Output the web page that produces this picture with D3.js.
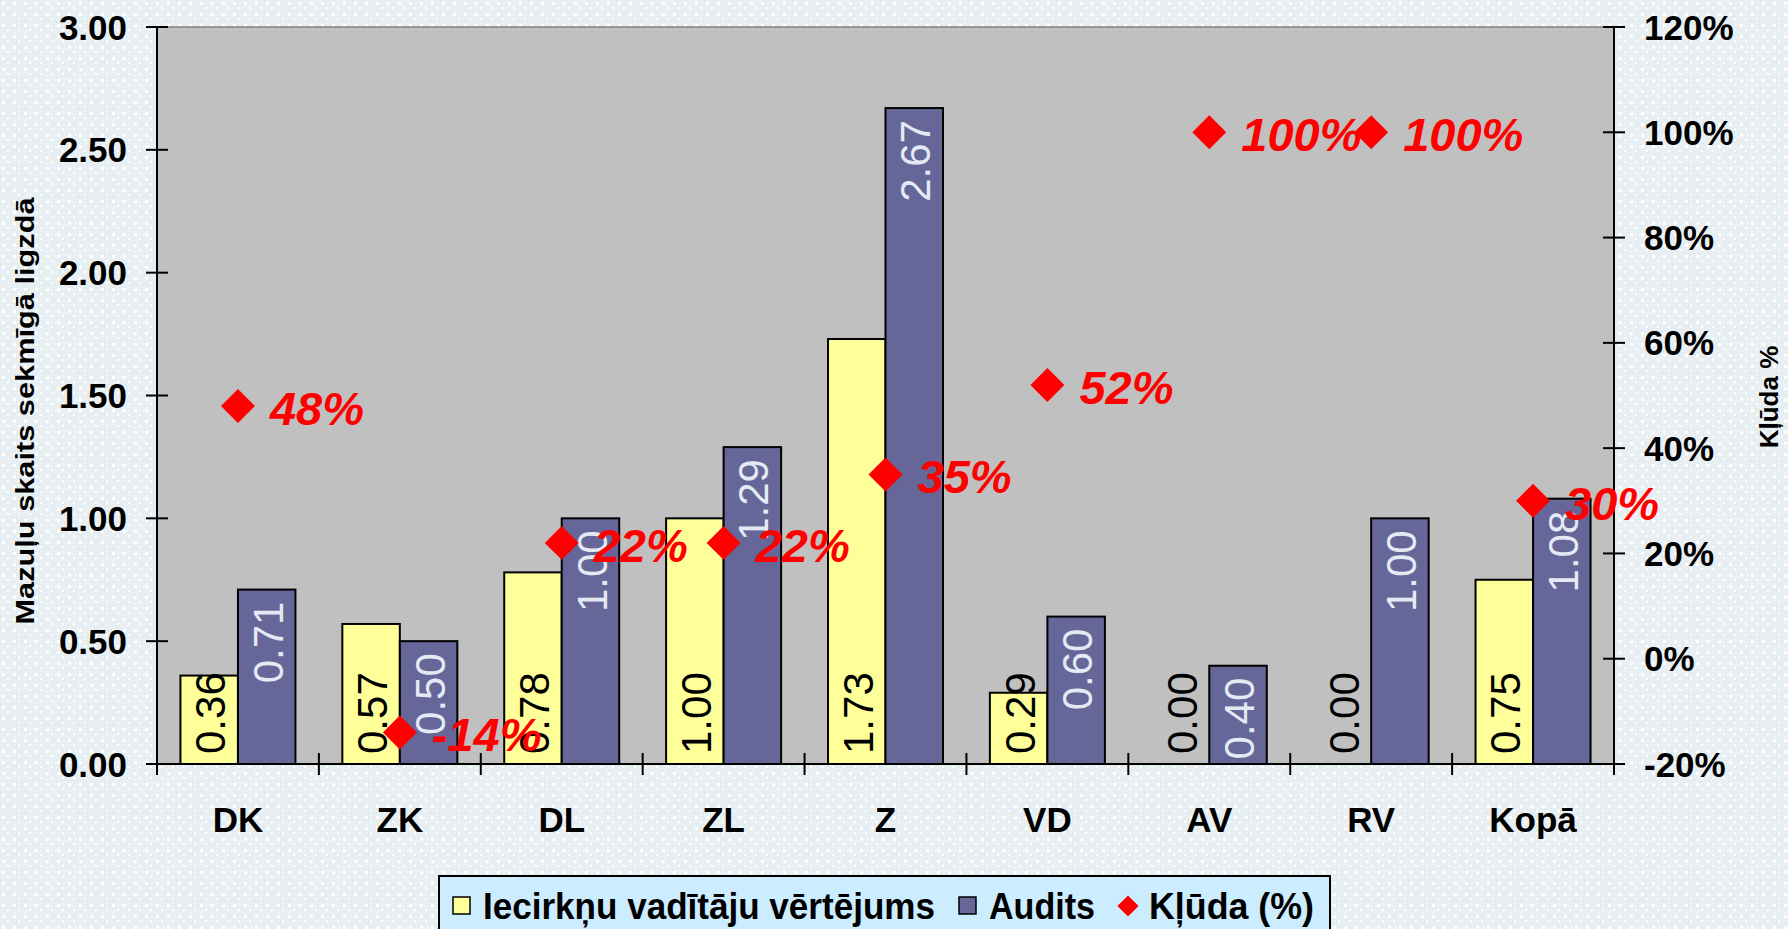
<!DOCTYPE html>
<html>
<head>
<meta charset="utf-8">
<script src="https://cdn.jsdelivr.net/npm/d3@7"></script>
<style>
  body { margin: 0; background: #e8eff3; }
  svg { display: block; font-family: "Liberation Sans", Arial, sans-serif; }
</style>
</head>
<body>
<div id="chart"></div>
<script>
// chart data
var categories = ["DK", "ZK", "DL", "ZL", "Z", "VD", "AV", "RV", "Kopā"];
var vaditaji = [0.36, 0.57, 0.78, 1.00, 1.73, 0.29, 0.00, 0.00, 0.75];
var audits = [0.71, 0.50, 1.00, 1.29, 2.67, 0.60, 0.40, 1.00, 1.08];
var kluda = [48, -14, 22, 22, 35, 52, 100, 100, 30];
var leftTicks = [0, 0.5, 1, 1.5, 2, 2.5, 3];
var rightTicks = [-20, 0, 20, 40, 60, 80, 100, 120];
var seriesNames = ["Iecirkņu vadītāju vērtējums", "Audits", "Kļūda (%)"];

var width = 1788, height = 929;
var plot = {left: 157, right: 1614, top: 27, bottom: 764};

var svg = d3.select("#chart").append("svg")
  .attr("width", width)
  .attr("height", height);

// dotted background
var defs = svg.append("defs");
var pat = defs.append("pattern")
  .attr("id", "dots")
  .attr("width", 11).attr("height", 11)
  .attr("patternUnits", "userSpaceOnUse");
pat.append("rect").attr("width", 11).attr("height", 11).attr("fill", "#e8eff3");
pat.append("rect").attr("x", 2).attr("y", 2).attr("width", 3).attr("height", 3).attr("fill", "#ffffff");
pat.append("rect").attr("x", 7).attr("y", 7).attr("width", 2).attr("height", 2).attr("fill", "#ffffff");
svg.append("rect").attr("width", width).attr("height", height).attr("fill", "url(#dots)");

// scales
var x = d3.scaleBand().domain(categories).range([plot.left, plot.right]);
var y = d3.scaleLinear().domain([0, 3]).range([plot.bottom, plot.top]);
var y2 = d3.scaleLinear().domain([-20, 120]).range([plot.bottom, plot.top]);
var barW = 57.5;

svg.append("rect")
  .attr("x", plot.left).attr("y", plot.top)
  .attr("width", plot.right - plot.left).attr("height", plot.bottom - plot.top)
  .attr("fill", "#c0c0c0")
  .attr("stroke", "#808080").attr("stroke-width", 1.5);

var table = categories.map(function(c, i) {
  return {cat: c, a: vaditaji[i], b: audits[i], k: kluda[i]};
});

// bars
var center = function(d) { return x(d.cat) + x.bandwidth() / 2; };

svg.append("g").selectAll("rect")
  .data(table.filter(function(d) { return d.a > 0; }))
  .enter().append("rect")
    .attr("x", function(d) { return center(d) - barW; })
    .attr("y", function(d) { return y(d.a); })
    .attr("width", barW)
    .attr("height", function(d) { return y(0) - y(d.a); })
    .attr("fill", "#ffff99")
    .attr("stroke", "black").attr("stroke-width", 2);

svg.append("g").selectAll("rect")
  .data(table)
  .enter().append("rect")
    .attr("x", function(d) { return center(d); })
    .attr("y", function(d) { return y(d.b); })
    .attr("width", barW)
    .attr("height", function(d) { return y(0) - y(d.b); })
    .attr("fill", "#666699")
    .attr("stroke", "black").attr("stroke-width", 2);

// axes
var axisG = svg.append("g").attr("stroke", "black").attr("stroke-width", 2);
axisG.append("line").attr("x1", plot.left).attr("x2", plot.left).attr("y1", plot.top).attr("y2", plot.bottom + 11);
axisG.append("line").attr("x1", plot.right).attr("x2", plot.right).attr("y1", plot.top).attr("y2", plot.bottom + 11);
axisG.append("line").attr("x1", plot.left).attr("x2", plot.right).attr("y1", plot.bottom).attr("y2", plot.bottom);

axisG.selectAll(".lt").data(leftTicks).enter().append("line")
  .attr("x1", plot.left - 11).attr("x2", plot.left + 11)
  .attr("y1", function(d) { return y(d); }).attr("y2", function(d) { return y(d); });
axisG.selectAll(".rt").data(rightTicks).enter().append("line")
  .attr("x1", plot.right - 11).attr("x2", plot.right + 11)
  .attr("y1", function(d) { return y2(d); }).attr("y2", function(d) { return y2(d); });
axisG.selectAll(".xt").data(categories.slice(1)).enter().append("line")
  .attr("x1", function(d) { return x(d); }).attr("x2", function(d) { return x(d); })
  .attr("y1", plot.bottom - 11).attr("y2", plot.bottom + 11);

svg.append("g").selectAll("text").data(leftTicks).enter().append("text")
  .attr("x", 127).attr("y", function(d) { return y(d); })
  .attr("dy", "0.36em")
  .attr("text-anchor", "end")
  .style("font-size", "35px").style("font-weight", "bold")
  .text(d3.format(".2f"));

svg.append("g").selectAll("text").data(rightTicks).enter().append("text")
  .attr("x", 1644).attr("y", function(d) { return y2(d); })
  .attr("dy", "0.36em")
  .style("font-size", "35px").style("font-weight", "bold")
  .text(function(d) { return d + "%"; });

svg.append("g").selectAll("text").data(categories).enter().append("text")
  .attr("x", function(d) { return x(d) + x.bandwidth() / 2; })
  .attr("y", 819)
  .attr("dy", "0.36em")
  .attr("text-anchor", "middle")
  .style("font-size", "35px").style("font-weight", "bold")
  .text(function(d) { return d; });

// axis titles
svg.append("text")
  .attr("transform", "translate(34,411) rotate(-90)")
  .attr("text-anchor", "middle")
  .attr("textLength", 427).attr("lengthAdjust", "spacingAndGlyphs")
  .style("font-size", "26px").style("font-weight", "bold")
  .text("Mazuļu skaits sekmīgā ligzdā");

svg.append("text")
  .attr("transform", "translate(1778,397) rotate(-90)")
  .attr("text-anchor", "middle")
  .style("font-size", "26px").style("font-weight", "bold")
  .text("Kļūda %");

// bar value labels
svg.append("g").selectAll("text").data(table).enter().append("text")
  .attr("transform", function(d) { return "translate(" + (center(d) - barW / 2 + 1) + "," + (y(0) - 10) + ") rotate(-90)"; })
  .attr("dy", "0.36em")
  .style("font-size", "42px")
  .attr("fill", "black")
  .text(function(d) { return d3.format(".2f")(d.a); });

svg.append("g").selectAll("text").data(table).enter().append("text")
  .attr("transform", function(d) { return "translate(" + (center(d) + barW / 2 + 1) + "," + (y(d.b) + 12) + ") rotate(-90)"; })
  .attr("dy", "0.36em")
  .attr("text-anchor", "end")
  .style("font-size", "42px")
  .attr("fill", "#e4eaf4")
  .text(function(d) { return d3.format(".2f")(d.b); });

// error markers
var diamond = d3.symbol().type(d3.symbolSquare).size(24 * 24);
svg.append("g").selectAll("path").data(table).enter().append("path")
  .attr("d", diamond)
  .attr("transform", function(d) { return "translate(" + center(d) + "," + y2(d.k) + ") rotate(45)"; })
  .attr("fill", "#ff0000");

svg.append("g").selectAll("text").data(table).enter().append("text")
  .attr("x", function(d) { return center(d) + 32; })
  .attr("y", function(d) { return y2(d.k) + 2; })
  .attr("dy", "0.36em")
  .attr("fill", "#ff0000")
  .style("font-size", "47px").style("font-weight", "bold").style("font-style", "italic")
  .text(function(d) { return d.k + "%"; });

// legend
var lg = svg.append("g");
lg.append("rect")
  .attr("x", 439).attr("y", 876).attr("width", 891).attr("height", 70)
  .attr("fill", "#ccecff").attr("stroke", "black").attr("stroke-width", 2);

var legY = 906;
var items = [
  {name: seriesNames[0], type: "sq", color: "#ffff99", x: 453, w: 452},
  {name: seriesNames[1], type: "sq", color: "#666699", x: 959, w: 106},
  {name: seriesNames[2], type: "dm", color: "#ff0000", x: 1119, w: 165}
];
items.forEach(function(it) {
  if (it.type == "sq") {
    lg.append("rect").attr("x", it.x).attr("y", legY - 9).attr("width", 17).attr("height", 17)
      .attr("fill", it.color).attr("stroke", "black").attr("stroke-width", 1.5);
  } else {
    lg.append("path").attr("d", d3.symbol().type(d3.symbolSquare).size(15 * 15))
      .attr("transform", "translate(" + (it.x + 9) + "," + legY + ") rotate(45)")
      .attr("fill", it.color);
  }
  lg.append("text")
    .attr("x", it.x + 30).attr("y", legY)
    .attr("dy", "0.36em")
    .attr("textLength", it.w).attr("lengthAdjust", "spacingAndGlyphs")
    .style("font-size", "37px").style("font-weight", "bold")
    .text(it.name);
});
</script>
</body>
</html>
